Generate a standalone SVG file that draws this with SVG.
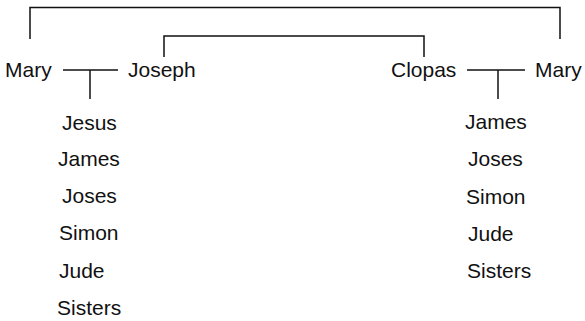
<svg xmlns="http://www.w3.org/2000/svg" width="585" height="321" viewBox="0 0 585 321">
  <style>
    text { font-family: "Liberation Sans", Arial, Helvetica, sans-serif; font-size: 21px; fill: #111; }
    .ln { fill: none; stroke: #111; stroke-width: 1.5; }
  </style>
  <rect width="585" height="321" fill="#fff"/>

  <!-- connectors -->
  <g id="connectors">
    <!-- Mary (left) to Mary (right) -->
    <polyline class="ln" points="30,39 30,7.5 560,7.5 560,39"/>
    <!-- Joseph to Clopas -->
    <polyline class="ln" points="164,57 164,36 424,36 424,57"/>
    <!-- Mary + Joseph marriage and descent -->
    <line class="ln" x1="63" y1="70" x2="118" y2="70"/>
    <line class="ln" x1="90" y1="70" x2="90" y2="99"/>
    <!-- Clopas + Mary marriage and descent -->
    <line class="ln" x1="467" y1="70" x2="525" y2="70"/>
    <line class="ln" x1="498" y1="70" x2="498" y2="99"/>
  </g>

  <!-- parents -->
  <g id="mary-left"><text x="5" y="77">Mary</text></g>
  <g id="joseph"><text x="128" y="77">Joseph</text></g>
  <g id="clopas"><text x="391" y="77">Clopas</text></g>
  <g id="mary-right"><text x="535" y="77">Mary</text></g>

  <!-- children of Mary and Joseph -->
  <g id="children-left">
    <text x="62" y="130">Jesus</text>
    <text x="58" y="166">James</text>
    <text x="62" y="203">Joses</text>
    <text x="59" y="240">Simon</text>
    <text x="59" y="278">Jude</text>
    <text x="57" y="315">Sisters</text>
  </g>

  <!-- children of Clopas and Mary -->
  <g id="children-right">
    <text x="465" y="129">James</text>
    <text x="468" y="166">Joses</text>
    <text x="466" y="204">Simon</text>
    <text x="468" y="241">Jude</text>
    <text x="467" y="278">Sisters</text>
  </g>
</svg>
